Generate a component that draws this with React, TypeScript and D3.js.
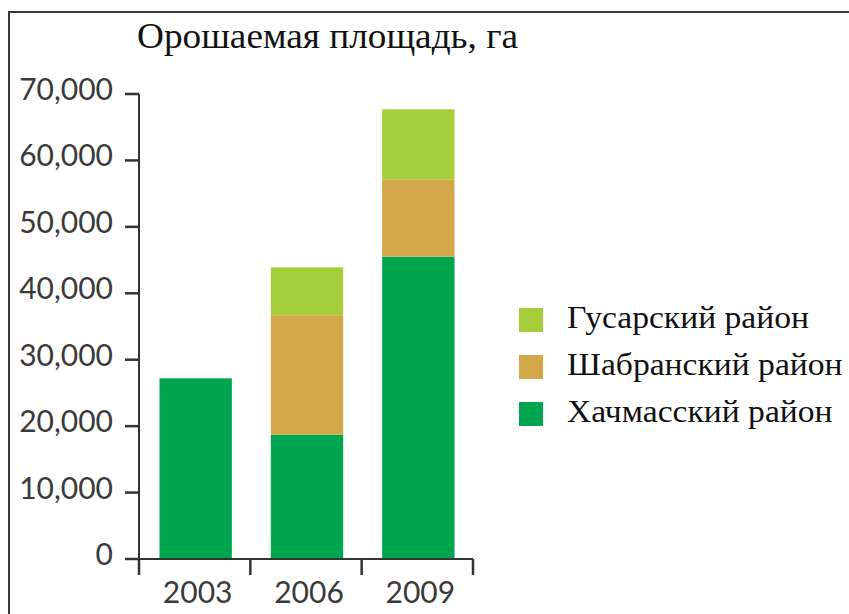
import React from 'react'
import * as d3 from 'd3'

const years = ['2003', '2006', '2009']
const districts = ['Хачмасский район', 'Шабранский район', 'Гусарский район']
const khachmas = [27200, 18700, 45500]
const shabran = [0, 18000, 11600]
const gusar = [0, 7200, 10600]
const yTicks = [0, 10000, 20000, 30000, 40000, 50000, 60000, 70000]
const colors = ['#00a550', '#d2a84a', '#a6cd3a']

const width = 849
const height = 614
const axisX = 139
const axisRight = 473
const zeroY = 559
const topY = 94
const serif = '"Liberation Serif", "Times New Roman", serif'
const sans = 'Lato, "DejaVu Sans", sans-serif'

const rows = years.map((year, i) => ({
  year,
  [districts[0]]: khachmas[i],
  [districts[1]]: shabran[i],
  [districts[2]]: gusar[i],
}))

const stacked = d3.stack<any>().keys(districts)(rows)

const xScale = d3.scaleBand().domain(years).range([axisX, axisRight]).padding(0)
const yScale = d3.scaleLinear().domain([0, 70000]).range([zeroY, topY])
const fmt = d3.format(',')
const barWidth = xScale.bandwidth() * 0.65

export default function App() {
  return (
    <svg
      width={width}
      height={height}
      style={{ position: 'absolute', left: 0, top: 0, background: '#fff' }}
    >
      {/* frame, right and bottom edges fall outside the picture */}
      <rect x={9} y={12} width={width + 20} height={height + 20} fill="#fff" stroke="#3a3a3a" strokeWidth={2} />

      <text transform="translate(137, 48) scale(1.065, 1)" fontFamily={serif} fontSize={35} fill="#111">
        Орошаемая площадь, га
      </text>

      {stacked.map((layer, li) => (
        <g key={layer.key} fill={colors[li]}>
          {layer.map((d, i) =>
            d[1] - d[0] > 0 ? (
              <rect
                key={i}
                x={(xScale(years[i]) as number) + (xScale.bandwidth() - barWidth) / 2 + 1}
                y={yScale(d[1])}
                width={barWidth}
                height={yScale(d[0]) - yScale(d[1])}
              />
            ) : null
          )}
        </g>
      ))}

      {/* y axis */}
      <line x1={axisX} x2={axisX} y1={yScale(70000)} y2={zeroY} stroke="#333" strokeWidth={2} />
      {yTicks.map(t => (
        <g key={t}>
          <line x1={125} x2={axisX} y1={yScale(t)} y2={yScale(t)} stroke="#333" strokeWidth={2.5} />
          <text
            x={113}
            y={yScale(t) + 6}
            textAnchor="end"
            fontFamily={sans}
            fontSize={30}
            fill="#3a3a3a"
          >
            {fmt(t)}
          </text>
        </g>
      ))}

      {/* x axis */}
      <line x1={125} x2={axisRight} y1={zeroY} y2={zeroY} stroke="#333" strokeWidth={2} />
      {[...years.map(y => xScale(y) as number), axisRight].map((x, i) => (
        <line key={i} x1={x} x2={x} y1={zeroY} y2={zeroY + 16} stroke="#333" strokeWidth={2.5} />
      ))}
      {years.map(y => (
        <text
          key={y}
          x={(xScale(y) as number) + xScale.bandwidth() / 2 + 3}
          y={603}
          textAnchor="middle"
          fontFamily={sans}
          fontSize={30}
          fill="#3a3a3a"
        >
          {y}
        </text>
      ))}

      {/* legend, top entry is the top of the stack */}
      {[2, 1, 0].map((k, i) => (
        <g key={districts[k]} transform={`translate(519, ${308 + i * 47})`}>
          <rect width={24} height={24} fill={colors[k]} />
          <text transform="translate(48, 20) scale(1.05, 1)" fontFamily={serif} fontSize={32} fill="#111">
            {districts[k]}
          </text>
        </g>
      ))}
    </svg>
  )
}
